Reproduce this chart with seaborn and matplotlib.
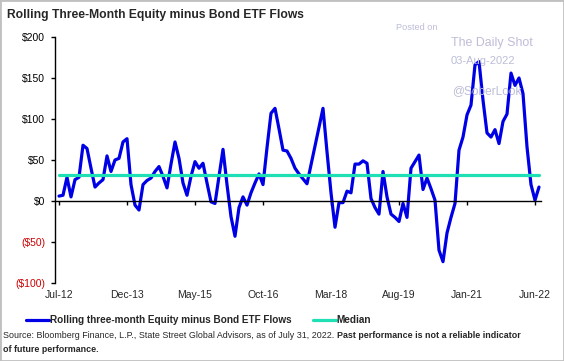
import numpy as np
import pandas as pd
import matplotlib
matplotlib.use("Agg")
import matplotlib.pyplot as plt
import seaborn as sns
from matplotlib.patches import Rectangle

# Monthly rolling three-month equity minus bond ETF flows ($bn), Jul-2012 .. Jul-2022
flows = [6, 7, 29, 5, 26, 29, 68, 64, 40, 17,
         22, 26, 55, 36, 50, 52, 72, 76, 20, -5,
         -11, 20, 25, 28, 36, 42, 30, 16, 45, 72,
         52, 22, 7, 30, 48, 40, 46, 22, -1, -3,
         30, 63, 20, -19, -43, -8, 5, -5, 10, 22,
         33, 20, 65, 107, 113, 88, 62, 61, 52, 40,
         33, 27, 21, 44, 67, 90, 113, 60, 10, -32,
         -2, -2, 12, 10, 45, 45, 49, 46, 3, -8,
         -16, 36, 5, -16, -20, -25, -3, -20, 40, 48,
         56, 14, 28, 15, 1, -60, -74, -39, -20, -3,
         62, 78, 105, 117, 166, 170, 123, 83, 78, 87,
         70, 97, 106, 156, 141, 150, 131, 66, 20, 1,
         17]
median_value = 32
start_label = "Jul-12"
tick_labels = ["Jul-12", "Dec-13", "May-15", "Oct-16", "Mar-18", "Aug-19", "Jan-21", "Jun-22"]
y_ticks = [-100, -50, 0, 50, 100, 150, 200]

sns.set_style("white")
plt.rcParams["font.family"] = ["Liberation Sans", "DejaVu Sans"]

W, H = 564, 361
fig = plt.figure(figsize=(W / 100, H / 100), dpi=100)
ax = fig.add_axes([55 / W, 1 - 283 / H, (541 - 55) / W, (283 - 37) / H])

start = pd.to_datetime(start_label, format="%b-%y")
def month_index(lbl):
    d = pd.to_datetime(lbl, format="%b-%y")
    return (d.year - start.year) * 12 + d.month - start.month

df = pd.DataFrame({"month": np.arange(len(flows)), "flow": flows})
df["median"] = median_value

sns.lineplot(data=df, x="month", y="flow", ax=ax, color="#0000E6", lw=2.3,
             label="Rolling three-month Equity minus Bond ETF Flows")
sns.lineplot(data=df, x="month", y="median", ax=ax, color="#1EE0B4", lw=2.3,
             label="Median")

ax.set_xlim(-1, len(flows) - 0.5)
ax.set_ylim(-100, 200)
ax.set_xlabel("")
ax.set_ylabel("")

for s in ["top", "right"]:
    ax.spines[s].set_visible(False)
ax.spines["bottom"].set_position(("data", 0))
ax.spines["bottom"].set_color("black")
ax.spines["bottom"].set_linewidth(1.0)
ax.spines["left"].set_color("black")
ax.spines["left"].set_linewidth(1.0)

ax.set_xticks([month_index(l) for l in tick_labels])
ax.set_xticklabels(tick_labels)
ax.set_yticks(y_ticks)
ax.set_yticklabels([f"${v}" if v >= 0 else f"(${-v})" for v in y_ticks])
for lbl, v in zip(ax.get_yticklabels(), y_ticks):
    lbl.set_color("#CC0000" if v < 0 else "black")

ax.tick_params(axis="x", bottom=True, direction="out", length=3, width=1,
               color="black", pad=61, labelsize=7.5)
ax.tick_params(axis="y", left=True, direction="out", length=3, width=1,
               color="black", pad=4, labelsize=7.5)
ax.grid(False)

handles, labels = ax.get_legend_handles_labels()
ax.get_legend().remove()
fig.legend(handles, labels, loc="center left", bbox_to_anchor=(26 / W, 1 - 320 / H),
           ncol=2, frameon=False, prop={"weight": "bold", "size": 7.2},
           handlelength=2.3, handletextpad=0.1, columnspacing=2.1,
           borderpad=0, borderaxespad=0)

fig.text(7 / W, 1 - 15 / H, "Rolling Three-Month Equity minus Bond ETF Flows",
         fontsize=8.7, fontweight="bold", ha="left", va="center")

t1 = fig.text(3 / W, 1 - 336 / H,
              "Source: Bloomberg Finance, L.P., State Street Global Advisors, as of July 31, 2022.",
              fontsize=6.4, ha="left", va="center")
fig.canvas.draw()
bb = t1.get_window_extent()
fig.text((bb.x1 + 3) / W, 1 - 336 / H, "Past performance is not a reliable indicator",
         fontsize=6.4, fontweight="bold", ha="left", va="center")
fig.text(3 / W, 1 - 349 / H, "of future performance.",
         fontsize=6.4, fontweight="bold", ha="left", va="center")

wm = "#BDBDD9"
fig.text(396 / W, 1 - 27 / H, "Posted on", fontsize=6.6, color=wm, ha="left", va="center")
fig.text(451 / W, 1 - 43 / H, "The Daily Shot", fontsize=8.9, color=wm, ha="left", va="center")
fig.text(451 / W, 1 - 61 / H, "03-Aug-2022", fontsize=8.0, color=wm, ha="left", va="center")
fig.text(452 / W, 1 - 91 / H, "@SoberLook", fontsize=8.6, color=wm, ha="left", va="center")

fig.add_artist(Rectangle((0, 0), 1, 1, transform=fig.transFigure, fill=False,
                         edgecolor="#C0C0C0", lw=2))

fig.savefig("out.png", dpi=100)
